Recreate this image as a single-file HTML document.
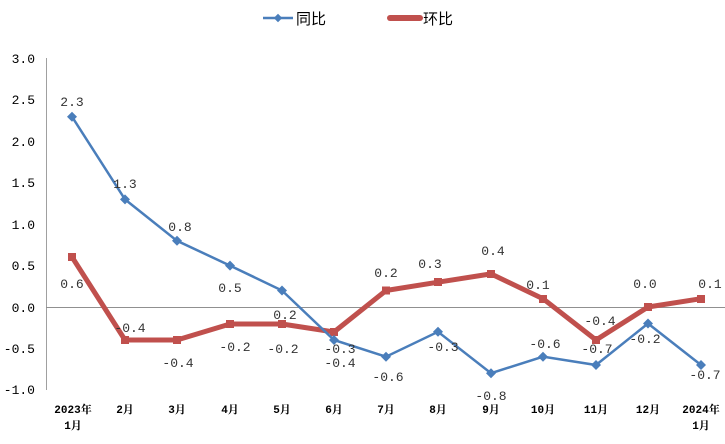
<!DOCTYPE html>
<html><head><meta charset="utf-8"><style>
body{margin:0;background:#fff;}
svg text{font-family:"Liberation Mono","Noto Serif CJK SC",monospace;}
</style></head><body>
<svg width="725" height="439" xmlns="http://www.w3.org/2000/svg">
<rect width="725" height="439" fill="#fff"/>
<!-- legend -->
<line x1="263" y1="18" x2="293" y2="18" stroke="#4a7ebb" stroke-width="2.5"/>
<rect x="275" y="15" width="6" height="6" fill="#4a7ebb" transform="rotate(45 278 18)"/>
<text x="296" y="24" font-size="15" fill="#000" style="font-family:'Noto Sans CJK SC',sans-serif">同比</text>
<line x1="390" y1="18" x2="420" y2="18" stroke="#c0504d" stroke-width="6" stroke-linecap="round"/>
<text x="423" y="24" font-size="15" fill="#000" style="font-family:'Noto Sans CJK SC',sans-serif">环比</text>
<!-- axes -->
<line x1="46.5" y1="58" x2="46.5" y2="390" stroke="#a0a0a0" stroke-width="1"/>
<line x1="46" y1="307.5" x2="725" y2="307.5" stroke="#909090" stroke-width="1"/>
<g font-size="13" fill="#000" text-anchor="end">
<text x="35" y="63">3.0</text>
<text x="35" y="104">2.5</text>
<text x="35" y="146">2.0</text>
<text x="35" y="187">1.5</text>
<text x="35" y="229">1.0</text>
<text x="35" y="270">0.5</text>
<text x="35" y="312">0.0</text>
<text x="35" y="353">-0.5</text>
<text x="35" y="394">-1.0</text>
</g>
<g font-size="11" font-weight="bold" fill="#000" text-anchor="middle" style="font-family:'Liberation Serif','Noto Serif CJK SC',serif">
<text x="73" y="413">2023年</text><text x="73" y="429">1月</text>
<text x="125" y="413">2月</text><text x="177" y="413">3月</text><text x="230" y="413">4月</text>
<text x="282" y="413">5月</text><text x="334" y="413">6月</text><text x="386" y="413">7月</text>
<text x="438" y="413">8月</text><text x="491" y="413">9月</text><text x="543" y="413">10月</text>
<text x="596" y="413">11月</text><text x="648" y="413">12月</text>
<text x="701" y="413">2024年</text><text x="701" y="429">1月</text>
</g>
<!-- red series -->
<polyline fill="none" stroke="#c0504d" stroke-width="5" stroke-linejoin="round"
points="72,257 125,340 177,340 230,324 282,324 334,332 386,290.5 438,282.2 491,273.9 543,298.7 596,340 648,307 701,298.7"/>
<g fill="#c0504d">
<rect x="68" y="253" width="8" height="8"/><rect x="121" y="336" width="8" height="8"/><rect x="173" y="336" width="8" height="8"/>
<rect x="226" y="320" width="8" height="8"/><rect x="278" y="320" width="8" height="8"/><rect x="330" y="328" width="8" height="8"/>
<rect x="382" y="286.5" width="8" height="8"/><rect x="434" y="278" width="8" height="8"/><rect x="487" y="270" width="8" height="8"/>
<rect x="539" y="295" width="8" height="8"/><rect x="592" y="336" width="8" height="8"/><rect x="644" y="303" width="8" height="8"/>
<rect x="697" y="295" width="8" height="8"/>
</g>
<!-- blue series -->
<polyline fill="none" stroke="#4a7ebb" stroke-width="2.5"
points="72,116.7 125,199.4 177,240.8 230,265.6 282,290.5 334,340 386,356.7 438,331.8 491,373.2 543,356.7 596,365 648,323.5 701,365"/>
<g fill="#4a7ebb">
<path d="M72,111.7l5,5-5,5-5-5z"/><path d="M125,194.4l5,5-5,5-5-5z"/><path d="M177,235.8l5,5-5,5-5-5z"/>
<path d="M230,260.6l5,5-5,5-5-5z"/><path d="M282,285.5l5,5-5,5-5-5z"/><path d="M334,335l5,5-5,5-5-5z"/>
<path d="M386,351.7l5,5-5,5-5-5z"/><path d="M438,326.8l5,5-5,5-5-5z"/><path d="M491,368.2l5,5-5,5-5-5z"/>
<path d="M543,351.7l5,5-5,5-5-5z"/><path d="M596,360l5,5-5,5-5-5z"/><path d="M648,318.5l5,5-5,5-5-5z"/>
<path d="M701,360l5,5-5,5-5-5z"/>
</g>
<!-- data labels -->
<g font-size="13" fill="#333" text-anchor="middle">
<text x="72" y="106">2.3</text><text x="125" y="188">1.3</text><text x="180" y="231">0.8</text>
<text x="230" y="292">0.5</text><text x="285" y="319">0.2</text><text x="340" y="367">-0.4</text>
<text x="388" y="381">-0.6</text><text x="443" y="351">-0.3</text><text x="491" y="400">-0.8</text>
<text x="545" y="348">-0.6</text><text x="597" y="353">-0.7</text><text x="645" y="343">-0.2</text>
<text x="705" y="379">-0.7</text>
<text x="72" y="288">0.6</text><text x="130" y="332">-0.4</text><text x="178" y="367">-0.4</text>
<text x="235" y="351">-0.2</text><text x="283" y="353">-0.2</text><text x="340" y="353">-0.3</text>
<text x="386" y="277">0.2</text><text x="430" y="268">0.3</text><text x="493" y="255">0.4</text>
<text x="538" y="289">0.1</text><text x="600" y="325">-0.4</text><text x="645" y="288">0.0</text>
<text x="710" y="288">0.1</text>
</g>
</svg>
</body></html>
